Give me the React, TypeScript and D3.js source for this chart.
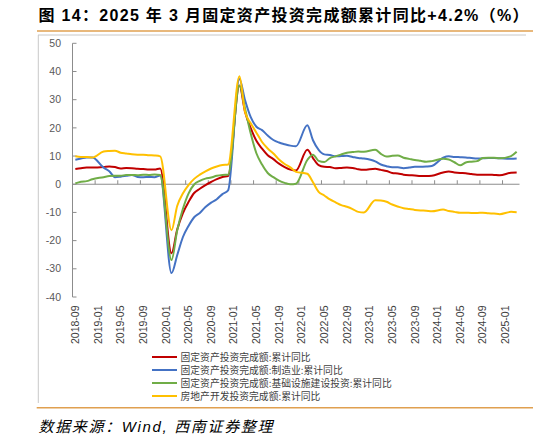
import * as d3 from "d3";

const WIDTH = 538;
const HEIGHT = 439;
const PLOT = { left: 72.5, right: 519.5, top: 43.3, bottom: 297 };

const TITLE = "图 14：2025 年 3 月固定资产投资完成额累计同比+4.2%（%）";
const SOURCE = "数据来源：Wind,  西南证券整理";

// monthly categories 2018-09 .. 2025-03
const MONTHS: string[] = [];
for (let y = 2018; y <= 2025; y++) {
  for (let m = 1; m <= 12; m++) {
    if (y === 2018 && m < 9) continue;
    if (y === 2025 && m > 3) continue;
    MONTHS.push(`${y}-${String(m).padStart(2, "0")}`);
  }
}

const TICK_LABELS = [
  "2018-09", "2019-01", "2019-05", "2019-09", "2020-01", "2020-05", "2020-09",
  "2021-01", "2021-05", "2021-09", "2022-01", "2022-05", "2022-09", "2023-01",
  "2023-05", "2023-09", "2024-01", "2024-05", "2024-09", "2025-01",
];
const Y_TICKS = [50, 40, 30, 20, 10, 0, -10, -20, -30, -40];

const N = null;
// January values are not published (Jan-Feb combined)
const FAI = [
  5.4, 5.7, 5.9, 5.9,
  N, 6.1, 6.3, 6.1, 5.6, 5.8, 5.7, 5.5, 5.4, 5.2, 5.2, 5.6,
  N, -24.5, -16.1, -10.3, -6.3, -3.1, -1.6, -0.3, 0.8, 1.8, 2.6, 2.9,
  N, 35.0, 25.6, 19.9, 15.4, 12.6, 10.3, 8.9, 7.3, 6.1, 5.2, 4.9,
  N, 12.2, 9.3, 6.8, 6.2, 6.1, 5.7, 5.8, 5.9, 5.8, 5.3, 5.1,
  N, 5.5, 5.1, 4.7, 4.0, 3.8, 3.4, 3.2, 3.1, 2.9, 2.9, 3.0,
  N, 4.2, 4.5, 4.2, 4.0, 3.9, 3.6, 3.4, 3.4, 3.4, 3.3, 3.2,
  N, 4.1, 4.2,
];
const MANUFACTURING = [
  8.7, 9.1, 9.5, 9.5,
  N, 5.9, 4.6, 2.5, 2.7, 3.0, 3.3, 2.6, 2.5, 2.6, 2.5, 3.1,
  N, -31.5, -25.2, -18.8, -14.8, -11.7, -10.2, -8.1, -6.5, -5.3, -3.5, -2.2,
  N, 37.3, 29.8, 23.8, 20.4, 19.2, 17.3, 15.7, 14.8, 14.2, 13.7, 13.5,
  N, 20.9, 15.6, 12.2, 10.6, 10.4, 9.9, 10.0, 10.1, 9.7, 9.3, 9.1,
  N, 8.1, 7.0, 6.4, 6.0, 6.0, 5.7, 5.9, 6.2, 6.2, 6.3, 6.5,
  N, 9.4, 9.9, 9.7, 9.6, 9.5, 9.3, 9.1, 9.2, 9.3, 9.3, 9.2,
  N, 9.0, 9.1,
];
const INFRA = [
  0.3, 0.9, 1.1, 1.8,
  N, 2.5, 2.9, 3.0, 3.0, 3.3, 3.3, 3.2, 3.4, 3.3, 3.5, 3.3,
  N, -26.9, -16.4, -8.8, -3.3, -0.1, 1.2, 2.0, 2.4, 3.0, 3.3, 3.4,
  N, 35.0, 26.8, 18.0, 11.0, 7.0, 4.0, 2.5, 1.3, 0.5, 0.0, 0.2,
  N, 8.6, 10.5, 8.3, 7.9, 9.3, 9.9, 10.6, 11.2, 11.4, 11.6, 11.5,
  N, 12.2, 10.8, 9.8, 10.1, 10.2, 9.4, 9.0, 8.6, 8.3, 8.0, 8.2,
  N, 9.0, 8.8, 7.8, 6.7, 7.7, 8.0, 8.2, 9.3, 9.4, 9.4, 9.2,
  N, 10.0, 11.5,
];
const REAL_ESTATE = [
  9.9, 9.7, 9.7, 9.5,
  N, 11.6, 11.8, 11.9, 11.2, 10.9, 10.6, 10.5, 10.5, 10.3, 10.2, 9.9,
  N, -16.3, -7.7, -3.3, -0.3, 1.9, 3.4, 4.6, 5.6, 6.3, 6.8, 7.0,
  N, 38.3, 25.6, 21.6, 18.3, 15.0, 12.7, 10.9, 8.8, 7.2, 6.0, 4.4,
  N, 3.7, 0.7, -2.7, -4.0, -5.4, -6.4, -7.4, -8.0, -8.8, -9.8, -10.0,
  N, -5.7, -5.8, -6.2, -7.2, -7.9, -8.5, -8.8, -9.1, -9.3, -9.4, -9.6,
  N, -9.0, -9.5, -9.8, -10.1, -10.1, -10.2, -10.2, -10.1, -10.3, -10.4, -10.6,
  N, -9.8, -9.9,
];

const SERIES = [
  { name: "固定资产投资完成额:累计同比", color: "#C00000", values: FAI },
  { name: "固定资产投资完成额:制造业:累计同比", color: "#4472C4", values: MANUFACTURING },
  { name: "固定资产投资完成额:基础设施建设投资:累计同比", color: "#70AD47", values: INFRA },
  { name: "房地产开发投资完成额:累计同比", color: "#FFC000", values: REAL_ESTATE },
];

const FONT = "'Liberation Sans', Arial, 'Noto Sans CJK SC', sans-serif";
const AXIS_COLOR = "#8C8C8C";
const ORANGE = "#E0A050";

export default function App() {
  const x = d3
    .scalePoint<string>()
    .domain(MONTHS)
    .range([PLOT.left, PLOT.right])
    .padding(0.5);
  const step = x.step();
  const y = d3.scaleLinear().domain([-40, 50]).range([PLOT.bottom, PLOT.top]);

  const line = d3
    .line<{ m: string; v: number }>()
    .x((d) => x(d.m) as number)
    .y((d) => y(d.v))
    .curve(d3.curveMonotoneX);

  return (
    <svg
      width={WIDTH}
      height={HEIGHT}
      style={{ position: "absolute", left: 0, top: 0, background: "#fff" }}
      fontFamily={FONT}
    >
      {/* title */}
      <text
        x={38.5}
        y={20.5}
        fontSize={16}
        fontWeight="bold"
        fill="#000"
        textLength={490}
        lengthAdjust="spacing"
      >
        {TITLE}
      </text>
      <line x1={37} x2={533} y1={31} y2={31} stroke={ORANGE} strokeWidth={1.5} />
      <line x1={38} x2={526} y1={35} y2={35} stroke="#C8C8C8" strokeWidth={1} />
      <line x1={38.3} x2={38.3} y1={35} y2={403} stroke="#C8C8C8" strokeWidth={1} />

      {/* y axis */}
      <line x1={PLOT.left} x2={PLOT.left} y1={y(50)} y2={y(-40)} stroke={AXIS_COLOR} />
      {Y_TICKS.map((t) => (
        <g key={t}>
          <line x1={PLOT.left} x2={PLOT.left + 4} y1={y(t)} y2={y(t)} stroke={AXIS_COLOR} />
          <text
            x={61}
            y={y(t)}
            dy="0.35em"
            textAnchor="end"
            fontSize={10.5}
            fill="#595959"
          >
            {t}
          </text>
        </g>
      ))}

      {/* x axis at zero */}
      <line x1={PLOT.left} x2={PLOT.right} y1={y(0)} y2={y(0)} stroke={AXIS_COLOR} />
      {TICK_LABELS.map((m) => {
        const cx = x(m) as number;
        return (
          <g key={m}>
            <line
              x1={cx - step / 2}
              x2={cx - step / 2}
              y1={y(0)}
              y2={y(0) - 4}
              stroke={AXIS_COLOR}
            />
            <text
              transform={`translate(${cx},305.5) rotate(-90)`}
              dy="0.35em"
              textAnchor="end"
              fontSize={10.5}
              fill="#404040"
            >
              {m}
            </text>
          </g>
        );
      })}

      {/* lines */}
      {SERIES.map((s) => {
        const pts = MONTHS.map((m, i) => ({ m, v: s.values[i] as number | null }))
          .filter((d) => d.v !== null) as { m: string; v: number }[];
        return (
          <path
            key={s.name}
            d={line(pts) ?? ""}
            fill="none"
            stroke={s.color}
            strokeWidth={2}
            strokeLinejoin="round"
          />
        );
      })}

      {/* legend */}
      {SERIES.map((s, i) => {
        const ly = 357 + i * 13;
        return (
          <g key={s.name}>
            <line x1={152} x2={177} y1={ly} y2={ly} stroke={s.color} strokeWidth={2} />
            <text
              x={180.5}
              y={ly}
              dy="0.36em"
              fontSize={9.8}
              fill="#404040"
              fontFamily="'Noto Sans CJK SC', sans-serif"
            >
              {s.name}
            </text>
          </g>
        );
      })}

      <line x1={36.7} x2={533} y1={407.7} y2={407.7} stroke={ORANGE} strokeWidth={1.5} />
      <text
        x={38.5}
        y={431.5}
        fontSize={15}
        fontStyle="italic"
        fill="#000"
        textLength={234}
        lengthAdjust="spacing"
        fontFamily="'Liberation Sans', 'Noto Sans CJK SC', sans-serif"
      >
        {SOURCE}
      </text>
    </svg>
  );
}
